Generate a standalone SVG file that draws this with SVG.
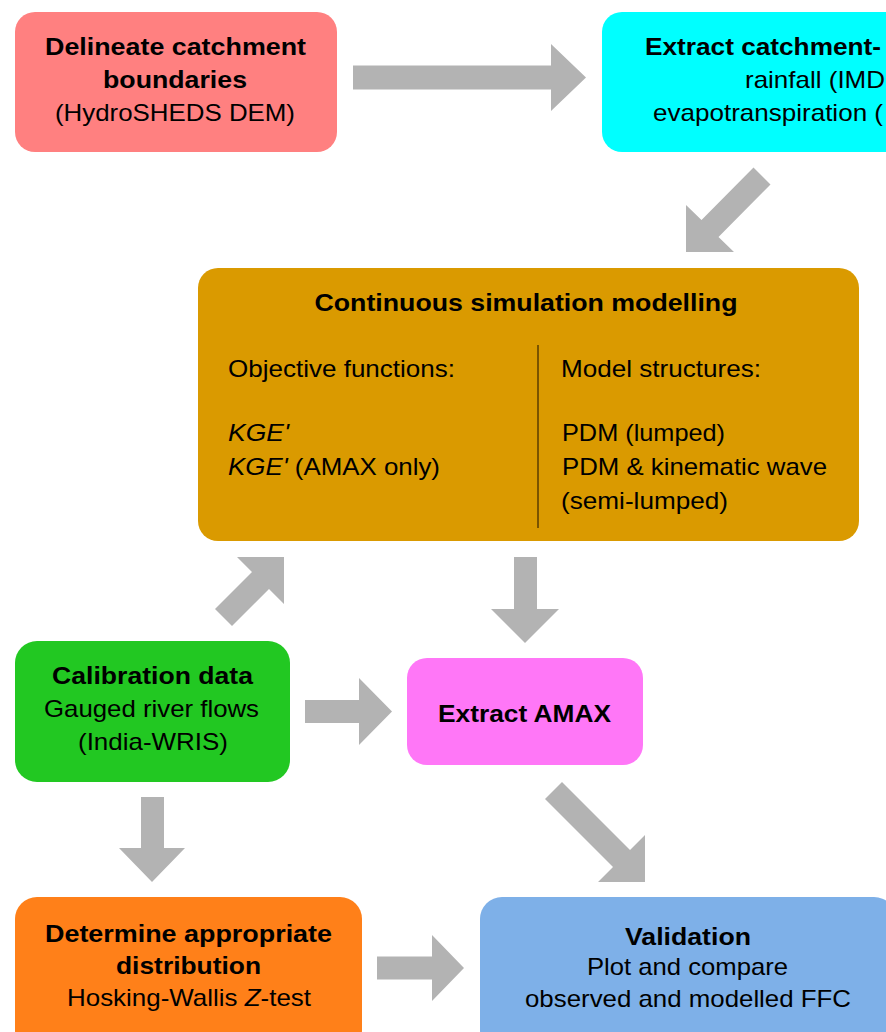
<svg xmlns="http://www.w3.org/2000/svg" width="886" height="1032" viewBox="0 0 886 1032">
<style>
.t{font-family:"Liberation Sans",Arial,sans-serif;font-size:24px;fill:#000}
.b{font-weight:bold}
.c{text-anchor:middle}
.i{font-style:italic}
.arr{fill:#B3B3B3}
</style>
<rect width="886" height="1032" fill="#fff"/>
<g id="connectors" class="arr">
<polygon id="a1" points="353,65.5 551,65.5 551,44 586,77.5 551,111 551,89.5 353,89.5"/>
<polygon id="a2" points="770.5,184.5 718.5,237 734,252 686,252 686,205 701.5,220 753.5,167.5"/>
<polygon id="a3" points="215,609 252,572 237,557 284,557 284,604 269,589 232,626"/>
<polygon id="a4" points="514,557 537,557 537,609 559,609 525,643 491,609 514,609"/>
<polygon id="a5" points="305,700 359,700 359,678 392,711.5 359,745 359,723 305,723"/>
<polygon id="a6" points="562,782 630,850 645,835 645,882 598,882 613,867 545,799"/>
<polygon id="a7" points="141,797 164,797 164,848 185,848 152,882 119,848 141,848"/>
<polygon id="a8" points="377,956.5 432,956.5 432,935 464,968 432,1001 432,979.5 377,979.5"/>
</g>
<g id="n1">
<rect x="15" y="12" width="322" height="140" rx="20" fill="#FF8080"/>
<text class="t b c" x="175.5" y="55" textLength="261" lengthAdjust="spacingAndGlyphs">Delineate catchment</text>
<text class="t b c" x="175" y="88" textLength="144" lengthAdjust="spacingAndGlyphs">boundaries</text>
<text class="t c" x="175" y="121" textLength="240" lengthAdjust="spacingAndGlyphs">(HydroSHEDS DEM)</text>
</g>
<g id="n2">
<rect x="602" y="12" width="310" height="140" rx="20" fill="#00FFFF"/>
<text class="t b" x="645" y="55" textLength="236" lengthAdjust="spacingAndGlyphs">Extract catchment-</text>
<text class="t" x="745" y="88" textLength="140" lengthAdjust="spacingAndGlyphs">rainfall (IMD</text>
<text class="t" x="653" y="121" textLength="230" lengthAdjust="spacingAndGlyphs">evapotranspiration (</text>
</g>
<g id="n3">
<rect x="198" y="268" width="661" height="273" rx="20" fill="#DA9A00"/>
<text class="t b c" x="526" y="311" textLength="423" lengthAdjust="spacingAndGlyphs">Continuous simulation modelling</text>
<line x1="538" y1="345" x2="538" y2="528" stroke="#5a3c00" stroke-width="1.5"/>
<text class="t" x="228" y="377" textLength="227" lengthAdjust="spacingAndGlyphs">Objective functions:</text>
<text class="t i" x="228" y="441" textLength="61" lengthAdjust="spacingAndGlyphs">KGE'</text>
<text class="t" x="228" y="475" textLength="212" lengthAdjust="spacingAndGlyphs"><tspan class="i">KGE'</tspan> (AMAX only)</text>
<text class="t" x="561" y="377" textLength="200" lengthAdjust="spacingAndGlyphs">Model structures:</text>
<text class="t" x="562" y="441" textLength="163" lengthAdjust="spacingAndGlyphs">PDM (lumped)</text>
<text class="t" x="562" y="475" textLength="265" lengthAdjust="spacingAndGlyphs">PDM &amp; kinematic wave</text>
<text class="t" x="561" y="509" textLength="167" lengthAdjust="spacingAndGlyphs">(semi-lumped)</text>
</g>
<g id="n4">
<rect x="15" y="641" width="275" height="141" rx="22" fill="#22C822"/>
<text class="t b c" x="152.5" y="684" textLength="201" lengthAdjust="spacingAndGlyphs">Calibration data</text>
<text class="t c" x="151.5" y="717" textLength="215" lengthAdjust="spacingAndGlyphs">Gauged river flows</text>
<text class="t c" x="153" y="750" textLength="150" lengthAdjust="spacingAndGlyphs">(India-WRIS)</text>
</g>
<g id="n5">
<rect x="407" y="658" width="236" height="107" rx="20" fill="#FF77F7"/>
<text class="t b c" x="524.5" y="722" textLength="173" lengthAdjust="spacingAndGlyphs">Extract AMAX</text>
</g>
<g id="n6">
<rect x="15" y="897" width="347" height="155" rx="22" fill="#FF8019"/>
<text class="t b c" x="188.5" y="942" textLength="287" lengthAdjust="spacingAndGlyphs">Determine appropriate</text>
<text class="t b c" x="188.5" y="974" textLength="145" lengthAdjust="spacingAndGlyphs">distribution</text>
<text class="t c" x="189" y="1006" textLength="244" lengthAdjust="spacingAndGlyphs">Hosking-Wallis <tspan class="i">Z</tspan>-test</text>
</g>
<g id="n7">
<rect x="480" y="897" width="416" height="155" rx="22" fill="#7EB0E8"/>
<text class="t b c" x="688" y="945" textLength="126" lengthAdjust="spacingAndGlyphs">Validation</text>
<text class="t c" x="687.5" y="975" textLength="201" lengthAdjust="spacingAndGlyphs">Plot and compare</text>
<text class="t c" x="688" y="1007" textLength="326" lengthAdjust="spacingAndGlyphs">observed and modelled FFC</text>
</g>
</svg>
